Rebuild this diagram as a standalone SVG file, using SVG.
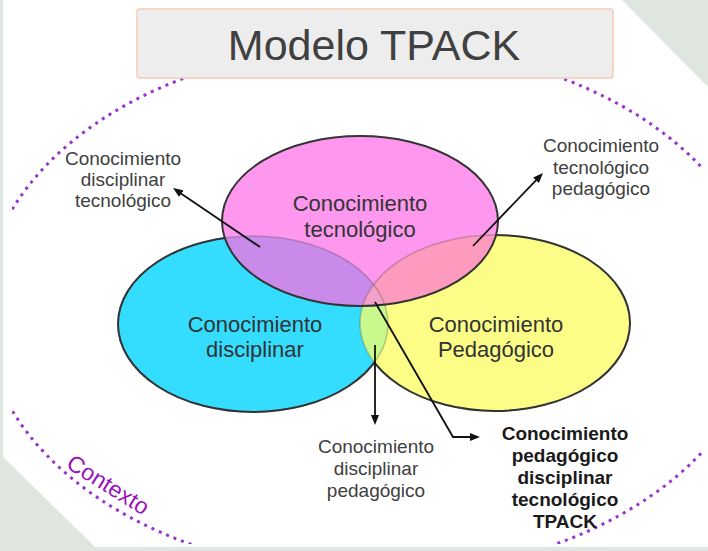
<svg xmlns="http://www.w3.org/2000/svg" width="708" height="551" viewBox="0 0 708 551">
<style>
text{font-family:"Liberation Sans",Arial,sans-serif}
.in{font-size:22px;fill:#333;text-anchor:middle}
.lb{font-size:19px;fill:#404040;text-anchor:middle}
.bd{font-size:19px;fill:#1a1a1a;font-weight:bold;text-anchor:middle}
.out{fill:none;stroke:#333;stroke-width:2}
.faint{fill:none;stroke:#333;stroke-width:1.6;stroke-opacity:0.25}
.arr{fill:none;stroke:#111;stroke-width:1.8;marker-end:url(#ah)}
</style>
<defs>
<marker id="ah" viewBox="0 0 10 8" refX="4" refY="4" markerWidth="10" markerHeight="8" markerUnits="userSpaceOnUse" orient="auto"><path d="M0,0 L10,4 L0,8 z" fill="#111"/></marker>
<clipPath id="cC"><ellipse cx="253" cy="324" rx="135" ry="88"/></clipPath>
<clipPath id="cY"><ellipse cx="495" cy="323" rx="135" ry="88"/></clipPath>
<clipPath id="page"><rect x="12" y="0" width="690" height="544"/></clipPath>
<mask id="mC" maskUnits="userSpaceOnUse" x="0" y="0" width="708" height="551"><rect width="708" height="551" fill="#fff"/><ellipse cx="495" cy="323" rx="135" ry="88" fill="#000"/><ellipse cx="360" cy="221" rx="138" ry="85" fill="#000"/></mask>
<mask id="mY" maskUnits="userSpaceOnUse" x="0" y="0" width="708" height="551"><rect width="708" height="551" fill="#fff"/><ellipse cx="253" cy="324" rx="135" ry="88" fill="#000"/><ellipse cx="360" cy="221" rx="138" ry="85" fill="#000"/></mask>
</defs>
<rect width="708" height="551" fill="#dfe5df"/>
<polygon points="3,0 622,0 708,87 708,547 95,547 3,457" fill="#fff"/>
<g id="contexto">
<ellipse cx="373" cy="310" rx="390" ry="265" fill="none" stroke="#9933cc" stroke-width="3" stroke-dasharray="3 5" clip-path="url(#page)"/>
<text x="65" y="467" transform="rotate(32 65 467)" font-size="23" fill="#9911bb">Contexto</text>
</g>
<g id="title">
<rect x="137" y="9" width="476" height="69" rx="3" fill="#ededed" stroke="#f3cdb5" stroke-width="1.5"/>
<text x="374" y="60" font-size="43" fill="#404040" text-anchor="middle">Modelo TPACK</text>
</g>
<g id="circles">
<ellipse cx="253" cy="324" rx="135" ry="88" fill="#34dcfd"/>
<ellipse cx="495" cy="323" rx="135" ry="88" fill="#fbfd87"/>
<ellipse cx="360" cy="221" rx="138" ry="85" fill="#fd98ee"/>
<ellipse cx="495" cy="323" rx="135" ry="88" fill="#c9f98c" clip-path="url(#cC)"/>
<ellipse cx="360" cy="221" rx="138" ry="85" fill="#c98ae9" clip-path="url(#cC)"/>
<ellipse cx="360" cy="221" rx="138" ry="85" fill="#fc9bbe" clip-path="url(#cY)"/>
<g clip-path="url(#cC)"><ellipse cx="360" cy="221" rx="138" ry="85" fill="#f3a0c8" clip-path="url(#cY)"/></g>
<ellipse class="faint" cx="253" cy="324" rx="135" ry="88"/>
<ellipse class="faint" cx="495" cy="323" rx="135" ry="88"/>
<ellipse class="out" cx="253" cy="324" rx="135" ry="88" mask="url(#mC)"/>
<ellipse class="out" cx="495" cy="323" rx="135" ry="88" mask="url(#mY)"/>
<ellipse class="out" cx="360" cy="221" rx="138" ry="85"/>
</g>
<g id="node-tecnologico"><text class="in" x="360" y="211">Conocimiento</text><text class="in" x="360" y="237">tecnológico</text></g>
<g id="node-disciplinar"><text class="in" x="255" y="332">Conocimiento</text><text class="in" x="255" y="357">disciplinar</text></g>
<g id="node-pedagogico"><text class="in" x="496" y="332">Conocimiento</text><text class="in" x="496" y="357">Pedagógico</text></g>
<g id="connectors">
<path class="arr" d="M260,247 L178,191.4"/>
<path class="arr" d="M473,246 L538.8,177.3"/>
<path class="arr" d="M375,345 L375,419"/>
<path class="arr" d="M375,302 L453,437 L474,437"/>
</g>
<g id="label-dt"><text class="lb" x="123" y="165">Conocimiento</text><text class="lb" x="123" y="186">disciplinar</text><text class="lb" x="123" y="207">tecnológico</text></g>
<g id="label-tp"><text class="lb" x="601" y="152">Conocimiento</text><text class="lb" x="601" y="174">tecnológico</text><text class="lb" x="601" y="195">pedagógico</text></g>
<g id="label-dp"><text class="lb" x="376" y="453">Conocimiento</text><text class="lb" x="376" y="475">disciplinar</text><text class="lb" x="376" y="497">pedagógico</text></g>
<g id="label-tpack"><text class="bd" x="565" y="440">Conocimiento</text><text class="bd" x="565" y="462">pedagógico</text><text class="bd" x="565" y="484">disciplinar</text><text class="bd" x="565" y="506">tecnológico</text><text class="bd" x="565" y="528">TPACK</text></g>
</svg>
